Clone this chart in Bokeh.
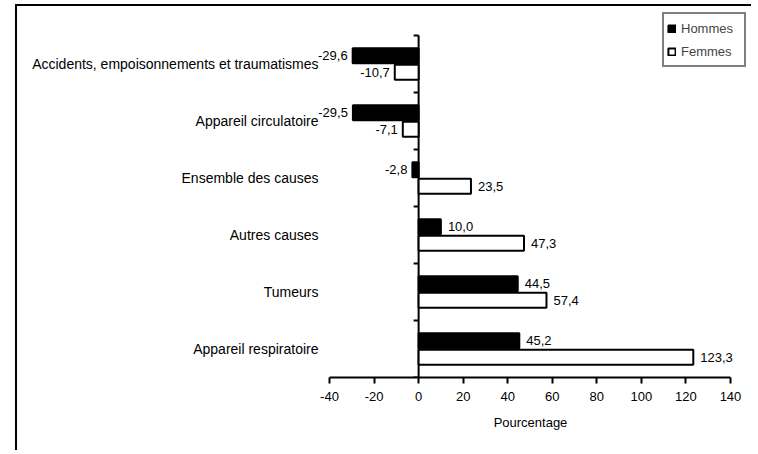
import numpy as np
from bokeh.plotting import figure
from bokeh.models import (ColumnDataSource, LabelSet, Range1d, FixedTicker,
                          Legend, LegendItem)
from bokeh.core.properties import value
from bokeh.embed import file_html
from bokeh.resources import INLINE

# ---- data ----
categories = [
    "Accidents, empoisonnements et traumatismes",
    "Appareil circulatoire",
    "Ensemble des causes",
    "Autres causes",
    "Tumeurs",
    "Appareil respiratoire",
]
hommes = [-29.6, -29.5, -2.8, 10.0, 44.5, 45.2]
femmes = [-10.7, -7.1, 23.5, 47.3, 57.4, 123.3]
series_names = ["Hommes", "Femmes"]
x_ticks = [-40, -20, 0, 20, 40, 60, 80, 100, 120, 140]
x_title = "Pourcentage"

FONT = "Liberation Sans"
FS = "13px"

n = len(categories)
pos = np.arange(n)[::-1].astype(float)   # first category at the top
off = 0.145
bar_h = 0.26

frame_left = 290
frame_right = 736
px_per_unit = 401.0 / 180.0
x_range = Range1d(x_ticks[0] - (312 - frame_left) / px_per_unit,
                  x_ticks[-1] + (frame_right - 713) / px_per_unit)
y_range = Range1d(pos.min() - 0.5, pos.max() + 0.5 + 29 / 57.0)

p = figure(width=frame_right, height=446, x_range=x_range, y_range=y_range,
           output_backend="svg", toolbar_location=None,
           min_border_left=frame_left, min_border_right=0,
           min_border_top=0, min_border_bottom=75)
p.styles = {"border-top": "2px solid black", "border-left": "2px solid black",
            "margin-left": "15px", "margin-top": "4px"}
p.outline_line_color = None
p.xgrid.visible = False
p.ygrid.visible = False
p.background_fill_color = "white"
p.border_fill_color = "white"

# x axis
xa = p.xaxis[0]
xa.bounds = (x_ticks[0], x_ticks[-1])
xa.ticker = FixedTicker(ticks=x_ticks)
xa.major_label_overrides = {float(t): str(t) for t in x_ticks}
xa.axis_line_width = 2
xa.axis_line_color = "black"
xa.major_tick_line_width = 2
xa.major_tick_line_color = "black"
xa.major_tick_out = 6
xa.major_tick_in = 0
xa.minor_tick_line_color = None
xa.major_label_standoff = 8
xa.major_label_text_font = FONT
xa.major_label_text_font_size = FS
xa.major_label_text_color = "black"
xa.axis_label = x_title
xa.axis_label_standoff = 11
xa.axis_label_text_font = FONT
xa.axis_label_text_font_size = FS
xa.axis_label_text_font_style = "normal"
xa.axis_label_text_color = "black"

# y axis (category labels), pulled to the right so that labels end near x = -43
ya = p.yaxis[0]
ya.ticker = FixedTicker(ticks=list(pos))
ya.major_label_overrides = {float(v): c for v, c in zip(pos, categories)}
ya.axis_line_color = None
ya.major_tick_line_color = None
ya.minor_tick_line_color = None
ya.major_tick_out = 0
ya.major_tick_in = 0
ya.major_label_standoff = frame_left - 301
ya.major_label_text_font = FONT
ya.major_label_text_font_size = "14px"
ya.major_label_text_color = "black"

# vertical axis line at zero with category boundary ticks
bounds = np.arange(n + 1) - 0.5
p.segment(x0=[0], y0=[bounds[0]], x1=[0], y1=[bounds[-1]],
          line_color="black", line_width=2)
tick_len = 5 / px_per_unit
p.segment(x0=np.zeros(n + 1), y0=bounds, x1=-tick_len * np.ones(n + 1), y1=bounds,
          line_color="black", line_width=2)

# bars
r_h = p.hbar(y=pos + off, left=0, right=hommes, height=bar_h,
             fill_color="black", line_color="black", line_width=2)
r_f = p.hbar(y=pos - off, left=0, right=femmes, height=bar_h,
             fill_color="white", line_color="black", line_width=2)

# value labels
vals = np.array(hommes + femmes)
ys = np.concatenate([pos + off, pos - off])
texts = [f"{v:.1f}".replace(".", ",") for v in vals]
pos_mask = vals >= 0
src_pos = ColumnDataSource(dict(x=vals[pos_mask], y=ys[pos_mask],
                                t=[t for t, m in zip(texts, pos_mask) if m]))
src_neg = ColumnDataSource(dict(x=vals[~pos_mask], y=ys[~pos_mask],
                                t=[t for t, m in zip(texts, pos_mask) if not m]))
p.add_layout(LabelSet(x="x", y="y", text="t", source=src_pos, x_offset=7,
                      text_align="left", text_baseline="middle",
                      text_font=value(FONT), text_font_size=value(FS),
                      text_color="black"))
p.add_layout(LabelSet(x="x", y="y", text="t", source=src_neg, x_offset=-5,
                      text_align="right", text_baseline="middle",
                      text_font=value(FONT), text_font_size=value(FS),
                      text_color="black"))

legend = Legend(items=[LegendItem(label=series_names[0], renderers=[r_h]),
                       LegendItem(label=series_names[1], renderers=[r_f])],
                location=(645 - frame_left, 310), margin=0, padding=3, spacing=1,
                label_height=22, label_width=60, glyph_width=9, glyph_height=9,
                label_standoff=5, label_text_font=FONT, label_text_font_size=FS,
                border_line_color="black", border_line_width=2,
                background_fill_color="white", background_fill_alpha=1)
p.add_layout(legend)

open("out.html", "w").write(file_html(p, INLINE))
